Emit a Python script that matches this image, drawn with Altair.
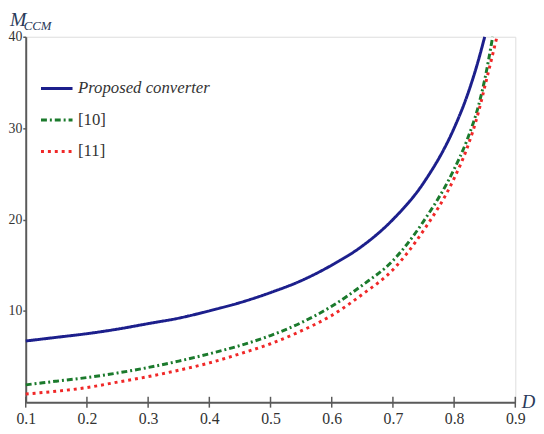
import altair as alt
import pandas as pd

# ---- data ----
series_names = ["Proposed converter", "[10]", "[11]"]

d_prop = [0.10, 0.15, 0.20, 0.25, 0.30, 0.35, 0.40, 0.45, 0.50, 0.55, 0.60, 0.65, 0.70, 0.75, 0.80, 0.82, 0.84, 0.85]
m_prop = [6.7, 7.1, 7.5, 8.0, 8.6, 9.2, 10.0, 10.9, 12.0, 13.3, 15.0, 17.1, 20.0, 24.0, 30.0, 33.3, 37.5, 40.0]

d_ref10 = [0.10, 0.15, 0.20, 0.25, 0.30, 0.35, 0.40, 0.45, 0.50, 0.55, 0.60, 0.65, 0.70, 0.75, 0.80, 0.82, 0.84, 0.85, 0.863]
m_ref10 = [1.9, 2.3, 2.7, 3.2, 3.8, 4.5, 5.3, 6.2, 7.3, 8.7, 10.5, 12.8, 15.5, 19.8, 25.5, 28.5, 32.5, 35.3, 40.0]

d_ref11 = [0.10, 0.15, 0.20, 0.25, 0.30, 0.35, 0.40, 0.45, 0.50, 0.55, 0.60, 0.65, 0.70, 0.75, 0.80, 0.82, 0.84, 0.85, 0.87]
m_ref11 = [0.9, 1.2, 1.6, 2.2, 2.8, 3.5, 4.3, 5.3, 6.4, 7.8, 9.5, 11.8, 14.5, 18.8, 24.5, 27.6, 31.8, 34.5, 40.0]

x_ticks = [0.1, 0.2, 0.3, 0.4, 0.5, 0.6, 0.7, 0.8, 0.9]
y_ticks = [10, 20, 30, 40]

rows = []
for name, ds, ms in zip(series_names, [d_prop, d_ref10, d_ref11], [m_prop, m_ref10, m_ref11]):
    for i, (d, m) in enumerate(zip(ds, ms)):
        rows.append({"series": name, "D": d, "M": m, "order": i})
df = pd.DataFrame(rows)

W, H = 497, 371
FONT = "Liberation Serif"
AXIS_COLOR = "#5a5a5a"

colors = ["#1c1f8c", "#1b7a2c", "#f02828"]
dashes = [[1, 0], [6, 3, 2, 3], [3, 4]]

lines = alt.Chart(df).mark_line(strokeWidth=3, interpolate="monotone").encode(
    x=alt.X("D:Q", scale=alt.Scale(domain=[0.1, 0.9], nice=False),
            axis=alt.Axis(values=x_ticks, format=".1f", ticks=False, grid=False,
                          labelFlush=False, labelOverlap=False,
                          domainColor=AXIS_COLOR, domainWidth=2,
                          labelFont=FONT, labelFontSize=16, labelColor="#333333",
                          labelPadding=9, title="D", titleFont=FONT, titleFontSize=19,
                          titleFontStyle="italic", titleFontWeight="normal", titleColor="#2a3a5a",
                          titleAlign="left", titleBaseline="alphabetic",
                          titleX=W + 6, titleY=5)),
    y=alt.Y("M:Q", scale=alt.Scale(domain=[0, 40], nice=False),
            axis=alt.Axis(values=y_ticks, format="d", grid=False, tickSize=3, tickWidth=1.5,
                          labelFlush=False, labelOverlap=False,
                          tickColor=AXIS_COLOR, domainColor=AXIS_COLOR, domainWidth=2,
                          labelFont=FONT, labelFontSize=14, labelColor="#333333",
                          labelPadding=1, title=None)),
    color=alt.Color("series:N", sort=series_names,
                    scale=alt.Scale(domain=series_names, range=colors),
                    legend=alt.Legend(orient="none", legendX=14, legendY=35, title=None,
                                      symbolType="stroke", symbolSize=1024, symbolStrokeWidth=3,
                                      labelFont=FONT, labelFontSize=17, labelColor="#333333",
                                      labelFontStyle={"expr": "datum.label == 'Proposed converter' ? 'italic' : 'normal'"},
                                      labelOffset=4, rowPadding=6, padding=0, labelLimit=300)),
    strokeDash=alt.StrokeDash("series:N", sort=series_names,
                              scale=alt.Scale(domain=series_names, range=dashes),
                              legend=None),
    order="order:Q",
)

tick_df = pd.DataFrame({"t": x_ticks})
xticks = alt.Chart(tick_df).mark_rule(color=AXIS_COLOR, strokeWidth=1.5).encode(
    x=alt.X("t:Q"),
    y=alt.value(H - 5.5),
    y2=alt.value(H + 5.5),
)

m_text = alt.Chart(pd.DataFrame({"s": ["M"]})).mark_text(
    font=FONT, fontSize=20, fontStyle="italic", color="#2a3a5a", align="left", baseline="alphabetic"
).encode(text="s:N", x=alt.value(-16), y=alt.value(-11))

ccm_text = alt.Chart(pd.DataFrame({"s": ["CCM"]})).mark_text(
    font=FONT, fontSize=13, fontStyle="italic", color="#2a3a5a", align="left", baseline="alphabetic"
).encode(text="s:N", x=alt.value(-2), y=alt.value(-7))

chart = alt.layer(lines, xticks, m_text, ccm_text).properties(
    width=W, height=H,
    autosize=alt.AutoSizeParams(type="none"),
    padding={"left": 18, "top": 26, "right": 21, "bottom": 24},
).configure_view(stroke=None).configure(background="white")

chart.save("out.html", embed_options={"renderer": "svg", "actions": False})
